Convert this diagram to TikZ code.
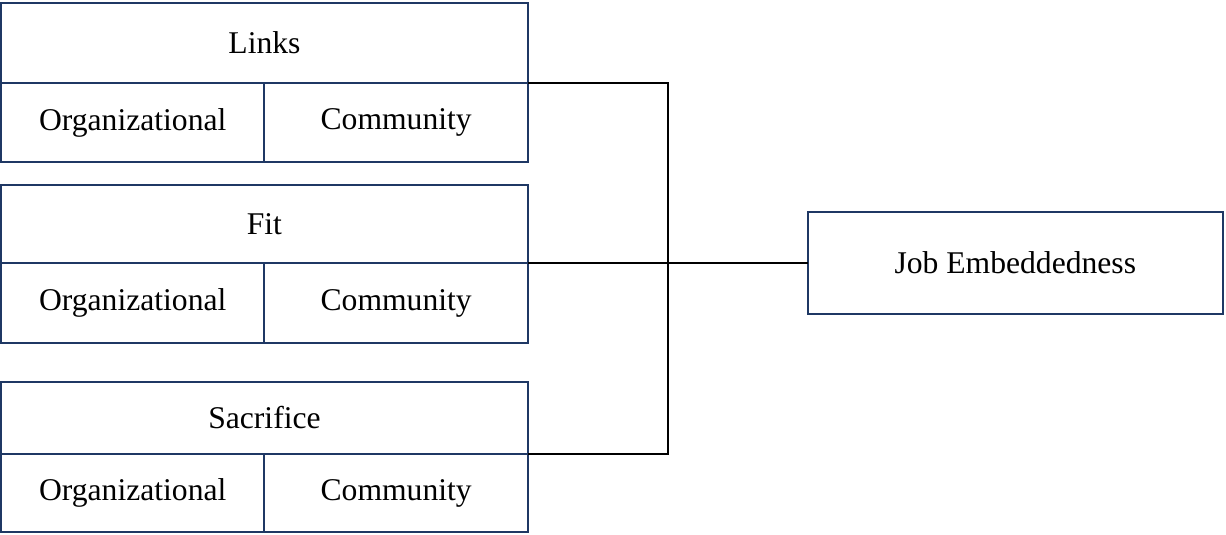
\documentclass[tikz,border=0pt]{standalone}
\usepackage{fontspec}
\setmainfont{Liberation Serif}
\usetikzlibrary{positioning}
\definecolor{boxblue}{HTML}{1F3864}

\begin{document}
\begin{tikzpicture}[x=0.02cm, y=-0.02cm,
    cell/.style={draw=boxblue, line width=1.1pt, inner sep=0pt, outer sep=0pt,
        anchor=north west, font=\fontsize{18}{20}\selectfont},
    head/.style={cell, minimum width=10.54cm},
    half/.style={cell, minimum width=5.27cm},
    link/.style={draw=black, line width=1.1pt}]
    \useasboundingbox (0,0) rectangle (1226,534);

    % left blocks
    \node[head, minimum height=1.6cm] at (1,3)(links){Links};
    \node[half, minimum height=1.58cm] at (links.south west)(linksorg){Organizational};
    \node[half, minimum height=1.58cm] at (linksorg.north east)(linkscom){Community};

    \node[head, minimum height=1.56cm] at (1,185)(fit){Fit};
    \node[half, minimum height=1.6cm] at (fit.south west)(fitorg){Organizational};
    \node[half, minimum height=1.6cm] at (fitorg.north east)(fitcom){Community};

    \node[head, minimum height=1.44cm] at (1,382)(sacrifice){Sacrifice};
    \node[half, minimum height=1.56cm] at (sacrifice.south west)(sacrificeorg){Organizational};
    \node[half, minimum height=1.56cm] at (sacrificeorg.north east)(sacrificecom){Community};

    % right block
    \coordinate[right=2.8cm of fit.south east] (hub);
    \node[cell, anchor=west, minimum width=8.3cm, minimum height=2.04cm,
        right=2.8cm of hub](job){Job Embeddedness};

    \path[link]
        (links.south east) -| (hub) |- (sacrifice.south east)
        (fit.south east) -- (hub) -- (job.west)
        ;
\end{tikzpicture}
\end{document}
